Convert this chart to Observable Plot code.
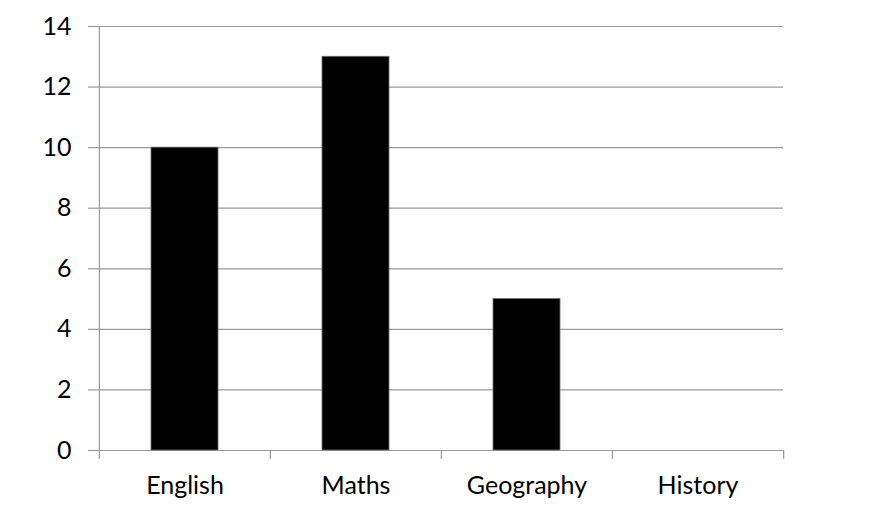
<!DOCTYPE html>
<html>
<head>
<meta charset="utf-8">
<script src="https://cdn.jsdelivr.net/npm/d3@7"></script>
<script src="https://cdn.jsdelivr.net/npm/@observablehq/plot@0.6"></script>
<style>
  html, body { margin: 0; padding: 0; background: #fff; }
  #chart { width: 884px; height: 522px; }
</style>
</head>
<body>
<div id="chart"></div>
<script>
const subjects = ["English", "Maths", "Geography", "History"];
const counts = [10, 13, 5, 0];
const yTicks = [0, 2, 4, 6, 8, 10, 12, 14];

const data = subjects.map((s, i) => ({subject: s, count: counts[i]}));

const W = 884, H = 522;
const mL = 98, mR = 101, mT = 26, mB = 72;
const bw = (W - mL - mR) / subjects.length;
const grey = "#9a9a9a";
const font = "Lato, 'Open Sans', sans-serif";

const chart = Plot.plot({
  width: W,
  height: H,
  marginLeft: mL,
  marginRight: mR,
  marginTop: mT,
  marginBottom: mB,
  style: {fontFamily: font, fontSize: "25px", color: "#000", background: "#fff"},
  x: {domain: subjects, padding: 0},
  y: {domain: [0, 14]},
  marks: [
    Plot.gridY(yTicks, {stroke: grey, strokeOpacity: 1, strokeWidth: 1.2}),
    Plot.axisY(yTicks, {tickSize: 10, tickPadding: 17, stroke: grey, strokeWidth: 1.2, label: null, fill: "#000"}),
    Plot.ruleX([subjects[0]], {dx: -bw / 2, y1: 0, y2: 14, stroke: grey, strokeWidth: 1.2}),
    Plot.axisX({ticks: subjects, tickSize: 9, text: null, dx: -bw / 2, stroke: grey, strokeWidth: 1.2, label: null}),
    Plot.axisX({ticks: [subjects[subjects.length - 1]], tickSize: 9, text: null, dx: bw / 2, stroke: grey, strokeWidth: 1.2, label: null}),
    Plot.axisX({tickSize: 0, tickPadding: 26, label: null, fill: "#000"}),
    Plot.barY(data, {x: "subject", y: "count", fill: "#000", stroke: "#6e6e6e", strokeWidth: 0.8, insetLeft: 52, insetRight: 52})
  ]
});
document.getElementById("chart").appendChild(chart);
</script>
</body>
</html>
